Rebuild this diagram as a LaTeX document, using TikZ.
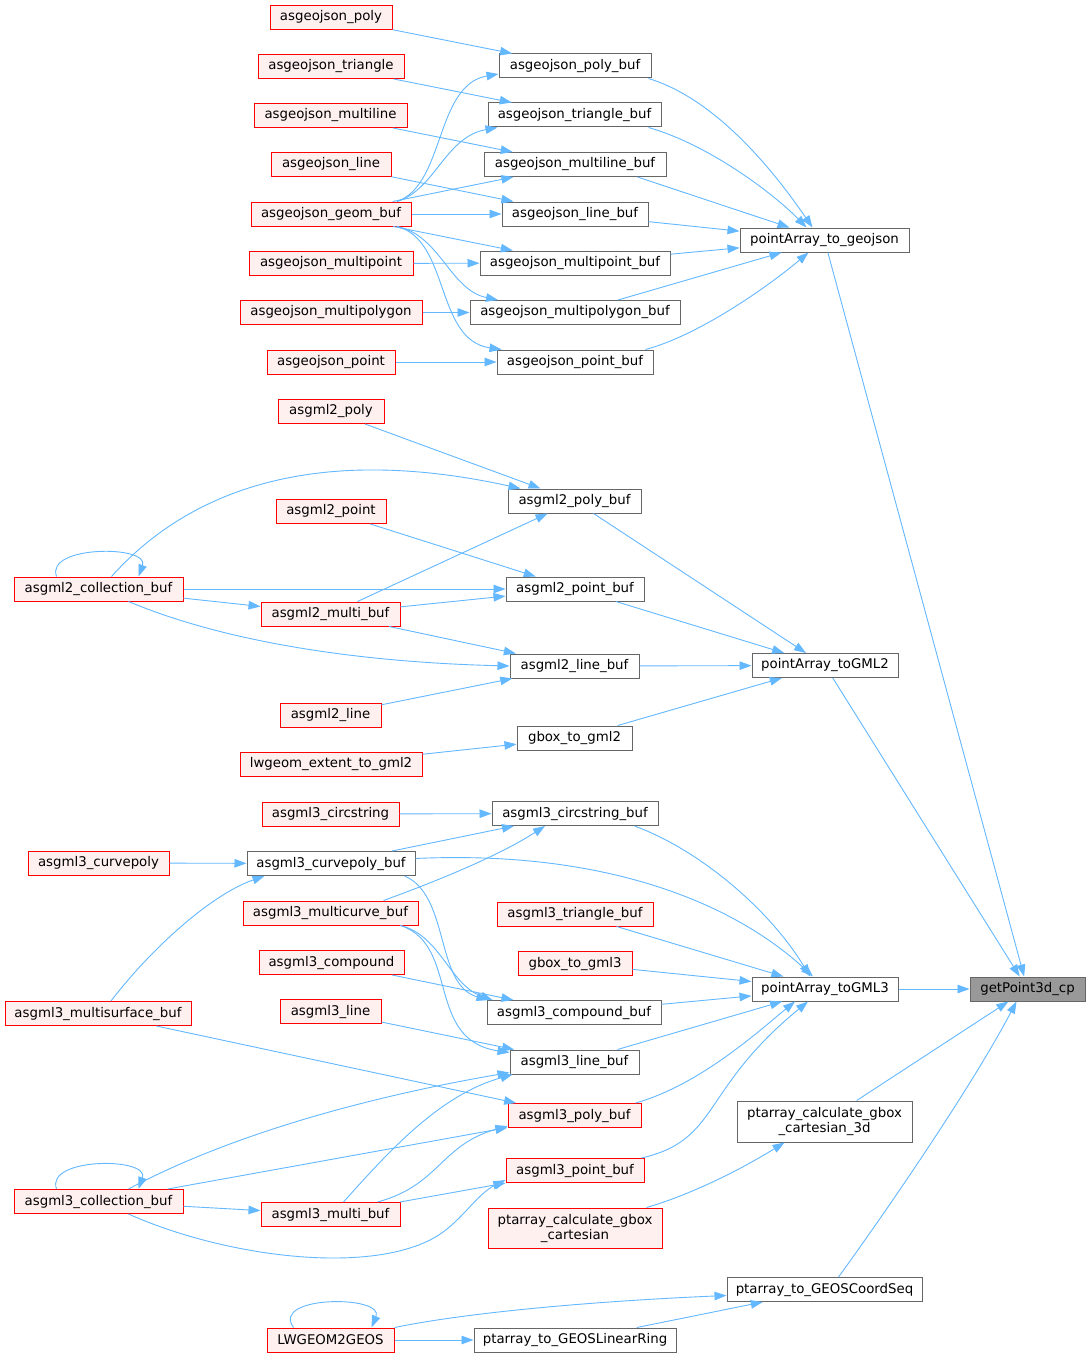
\documentclass[tikz,border=0pt]{standalone}
\usepackage{fontspec}
\setmainfont{DejaVu Sans}
\usetikzlibrary{arrows.meta}
\definecolor{edgeblue}{HTML}{63B8FF}
\definecolor{nodered}{HTML}{FF0000}
\definecolor{nodefill}{HTML}{FFF0F0}
\definecolor{nodegray}{HTML}{666666}
\definecolor{rootfill}{HTML}{999999}
\begin{document}
\begin{tikzpicture}[x=1pt,y=-1pt,
  nb/.style={draw, line width=1pt, inner sep=0pt, minimum height=24pt,
    font=\fontsize{13.33}{15}\selectfont, align=center},
  rn/.style={nb, draw=nodered, fill=nodefill},
  gn/.style={nb, draw=nodegray, fill=white},
  rootn/.style={nb, draw=nodegray, fill=rootfill},
  ce/.style={draw=edgeblue, line width=0.9pt, -{Triangle[length=12pt,width=8.5pt]}}]
\useasboundingbox (0,0) rectangle (1091,1359);
\fill[white] (0,0) rectangle (1091,1359);

% GeoJSON
\node[rn, minimum width=122pt] (gjpoly) at (331,17.5) {asgeojson\_poly};
\node[rn, minimum width=146pt] (gjtri) at (331,66.5) {asgeojson\_triangle};
\node[rn, minimum width=153pt] (gjmline) at (330.5,115.5) {asgeojson\_multiline};
\node[rn, minimum width=120pt] (gjline) at (331,164.5) {asgeojson\_line};
\node[rn, minimum width=160pt] (gjgeom) at (331,214) {asgeojson\_geom\_buf};
\node[rn, minimum width=164pt] (gjmpoint) at (331,263.5) {asgeojson\_multipoint};
\node[rn, minimum width=182pt] (gjmpoly) at (331,312.5) {asgeojson\_multipolygon};
\node[rn, minimum width=128pt] (gjpoint) at (331,362) {asgeojson\_point};

\node[gn, minimum width=152pt] (gjpolybuf) at (575,66) {asgeojson\_poly\_buf};
\node[gn, minimum width=173pt] (gjtribuf) at (574.5,115) {asgeojson\_triangle\_buf};
\node[gn, minimum width=182pt] (gjmlinebuf) at (575,164.5) {asgeojson\_multiline\_buf};
\node[gn, minimum width=146pt] (gjlinebuf) at (575,214) {asgeojson\_line\_buf};
\node[gn, minimum width=190pt] (gjmpointbuf) at (575,263) {asgeojson\_multipoint\_buf};
\node[gn, minimum width=210pt] (gjmpolybuf) at (575,312.5) {asgeojson\_multipolygon\_buf};
\node[gn, minimum width=156pt] (gjpointbuf) at (575,362) {asgeojson\_point\_buf};
\node[gn, minimum width=169pt] (pageojson) at (824.5,240) {pointArray\_to\_geojson};

\node[rootn, minimum width=115pt] (root) at (1027.5,989) {getPoint3d\_cp};

% GML2
\node[rn, minimum width=106pt] (g2poly) at (331,411.5) {asgml2\_poly};
\node[gn, minimum width=133pt] (g2polybuf) at (574.5,501) {asgml2\_poly\_buf};
\node[rn, minimum width=110pt] (g2point) at (331,511.5) {asgml2\_point};
\node[rn, minimum width=169pt] (g2coll) at (98.5,589) {asgml2\_collection\_buf};
\node[gn, minimum width=138pt] (g2pointbuf) at (575,589) {asgml2\_point\_buf};
\node[rn, minimum width=139pt] (g2multi) at (330.5,614) {asgml2\_multi\_buf};
\node[gn, minimum width=129pt] (g2linebuf) at (574.5,666) {asgml2\_line\_buf};
\node[rn, minimum width=101pt] (g2line) at (330.5,715) {asgml2\_line};
\node[gn, minimum width=115pt] (g2gbox) at (574.5,738) {gbox\_to\_gml2};
\node[rn, minimum width=182pt] (g2ext) at (331,764) {lwgeom\_extent\_to\_gml2};
\node[gn, minimum width=146pt] (pagml2) at (825,665.5) {pointArray\_toGML2};

% GML3
\node[rn, minimum width=137pt] (g3circ) at (330.5,814) {asgml3\_circstring};
\node[gn, minimum width=166pt] (g3circbuf) at (575,813.5) {asgml3\_circstring\_buf};
\node[rn, minimum width=141pt] (g3cpoly) at (98.5,863) {asgml3\_curvepoly};
\node[gn, minimum width=168pt] (g3cpolybuf) at (331,863.5) {asgml3\_curvepoly\_buf};
\node[rn, minimum width=175pt] (g3mcurve) at (330.5,913) {asgml3\_multicurve\_buf};
\node[rn, minimum width=156pt] (g3tribuf) at (575,914) {asgml3\_triangle\_buf};
\node[rn, minimum width=145pt] (g3compound) at (331.5,962.5) {asgml3\_compound};
\node[rn, minimum width=114pt] (g3gbox) at (575,963.5) {gbox\_to\_gml3};
\node[rn, minimum width=186pt] (g3msurf) at (98,1013.5) {asgml3\_multisurface\_buf};
\node[gn, minimum width=174pt] (g3compbuf) at (574,1012.5) {asgml3\_compound\_buf};
\node[rn, minimum width=101pt] (g3line) at (330.5,1011.5) {asgml3\_line};
\node[gn, minimum width=129pt] (g3linebuf) at (574.5,1062) {asgml3\_line\_buf};
\node[gn, minimum width=146pt] (pagml3) at (825,989) {pointArray\_toGML3};
\node[rn, minimum width=133pt] (g3polybuf) at (574.5,1115.5) {asgml3\_poly\_buf};
\node[gn, minimum width=175pt, minimum height=41pt] (gbox3d) at (824.5,1121.5) {ptarray\_calculate\_gbox\\\_cartesian\_3d};
\node[rn, minimum width=138pt] (g3pointbuf) at (575,1170.5) {asgml3\_point\_buf};
\node[rn, minimum width=169pt] (g3coll) at (98.5,1201.5) {asgml3\_collection\_buf};
\node[rn, minimum width=139pt] (g3multi) at (330.5,1214.5) {asgml3\_multi\_buf};
\node[rn, minimum width=174pt, minimum height=40pt] (gboxcart) at (575,1228) {ptarray\_calculate\_gbox\\\_cartesian};
\node[gn, minimum width=195pt] (geoscs) at (824.5,1289.5) {ptarray\_to\_GEOSCoordSeq};
\node[rn, minimum width=127pt] (lwgeom) at (330.5,1340) {LWGEOM2GEOS};
\node[gn, minimum width=202pt] (geoslr) at (575,1340) {ptarray\_to\_GEOSLinearRing};

% ---------- GeoJSON edges
\draw[ce] (gjpoly) -- (gjpolybuf);
\draw[ce] (gjtri) -- (gjtribuf);
\draw[ce] (gjmline) -- (gjmlinebuf);
\draw[ce] (gjline) -- (gjlinebuf);
\draw[ce] ([xshift=66pt]gjgeom.north) .. controls (445,185) and (435,85) .. ([yshift=-8pt]gjpolybuf.west);
\draw[ce] ([xshift=66pt]gjgeom.north) .. controls (435,190) and (445,137) .. ([xshift=-77pt]gjtribuf.south);
\draw[ce] (gjgeom) -- (gjmlinebuf);
\draw[ce] (gjgeom) -- (gjlinebuf);
\draw[ce] (gjgeom) -- (gjmpointbuf);
\draw[ce] ([xshift=66pt]gjgeom.south) .. controls (440,235) and (450,290) .. ([xshift=-77pt]gjmpolybuf.north);
\draw[ce] ([xshift=66pt]gjgeom.south) .. controls (450,240) and (435,340) .. ([xshift=5pt]gjpointbuf.north west);
\draw[ce] (gjmpoint) -- (gjmpointbuf);
\draw[ce] (gjmpoly) -- (gjmpolybuf);
\draw[ce] (gjpoint) -- (gjpointbuf);

\draw[ce] ([xshift=-3pt]gjpolybuf.south east) .. controls (720,100) and (780,180) .. ([xshift=-12pt]pageojson.north);
\draw[ce] ([xshift=-13pt]gjtribuf.south east) .. controls (710,145) and (775,195) .. ([xshift=-18pt]pageojson.north);
\draw[ce] ([xshift=-29pt]gjmlinebuf.south east) -- ([xshift=-35pt]pageojson.north);
\draw[ce] (gjlinebuf) -- (pageojson);
\draw[ce] (gjmpointbuf) -- (pageojson);
\draw[ce] (gjmpolybuf) -- (pageojson);
\draw[ce] ([xshift=-8pt]gjpointbuf.north east) .. controls (700,335) and (770,285) .. ([xshift=-16pt]pageojson.south);
\draw[ce] (pageojson) -- (root);

% ---------- GML2 edges
\draw[ce] (g2poly) -- (g2polybuf);
\draw[ce] ([xshift=13pt]g2coll.north) .. controls (180,500) and (300,440) .. ([xshift=-54pt]g2polybuf.north);
\draw[ce] ([xshift=-42pt]g2coll.north) .. controls (45,545) and (150,545) .. ([xshift=40pt]g2coll.north);
\draw[ce] (g2coll) -- (g2pointbuf);
\draw[ce] (g2coll) -- (g2multi);
\draw[ce] ([xshift=30pt]g2coll.south) .. controls (220,640) and (350,662) .. (g2linebuf.west);
\draw[ce] (g2point) -- (g2pointbuf);
\draw[ce] (g2multi) -- (g2polybuf);
\draw[ce] (g2multi) -- (g2pointbuf);
\draw[ce] (g2multi) -- (g2linebuf);
\draw[ce] (g2line) -- (g2linebuf);
\draw[ce] (g2ext) -- (g2gbox);
\draw[ce] (g2polybuf) -- (pagml2);
\draw[ce] (g2pointbuf) -- (pagml2);
\draw[ce] (g2linebuf) -- (pagml2);
\draw[ce] (g2gbox) -- (pagml2);
\draw[ce] (pagml2) -- (root);

% ---------- GML3 edges
\draw[ce] (g3circ) -- (g3circbuf);
\draw[ce] (g3cpoly) -- (g3cpolybuf);
\draw[ce] (g3cpolybuf) -- (g3circbuf);
\draw[ce] ([xshift=53pt]g3mcurve.north) .. controls (440,880) and (500,855) .. ([xshift=-30pt]g3circbuf.south);
\draw[ce] ([yshift=5pt]g3cpolybuf.east) .. controls (600,850) and (730,900) .. ([xshift=-12pt]pagml3.north);
\draw[ce] ([xshift=-24pt]g3circbuf.south east) .. controls (700,850) and (770,910) .. ([xshift=-15pt]pagml3.north);
\draw[ce] ([xshift=-11pt]g3cpolybuf.south east) .. controls (450,895) and (435,985) .. ([xshift=2pt]g3compbuf.north west);
\draw[ce] ([xshift=-18pt]g3mcurve.south east) .. controls (440,935) and (450,985) .. ([xshift=6pt]g3compbuf.north west);
\draw[ce] ([xshift=-18pt]g3mcurve.south east) .. controls (460,945) and (425,1040) .. ([yshift=-3pt]g3linebuf.north west);
\draw[ce] ([xshift=13pt]g3msurf.north) .. controls (150,950) and (210,895) .. ([xshift=18pt]g3cpolybuf.south west);
\draw[ce] (g3msurf) -- (g3polybuf);
\draw[ce] (g3compound) -- (g3compbuf);
\draw[ce] (g3line) -- (g3linebuf);
\draw[ce] (g3tribuf) -- (pagml3);
\draw[ce] (g3gbox) -- (pagml3);
\draw[ce] (g3compbuf) -- (pagml3);
\draw[ce] (g3linebuf) -- (pagml3);
\draw[ce] ([xshift=-6pt]g3polybuf.north east) .. controls (700,1085) and (760,1030) .. ([xshift=-30pt]pagml3.south);
\draw[ce] ([xshift=-3pt]g3pointbuf.north east) .. controls (720,1140) and (700,1090) .. ([xshift=-17pt]pagml3.south);
\draw[ce] (pagml3) -- (root);
\draw[ce] ([xshift=-16pt]gboxcart.north east) .. controls (690,1195) and (740,1170) .. ([xshift=-40pt]gbox3d.south);
\draw[ce] (gbox3d) -- (root);

\draw[ce] ([xshift=-42pt]g3coll.north) .. controls (45,1157) and (150,1157) .. ([xshift=40pt]g3coll.north);
\draw[ce] ([xshift=30pt]g3coll.north) .. controls (220,1140) and (350,1100) .. ([yshift=2pt]g3linebuf.south west);
\draw[ce] (g3coll) -- (g3polybuf);
\draw[ce] (g3coll) -- (g3multi);
\draw[ce] ([xshift=30pt]g3coll.south) .. controls (220,1255) and (360,1275) .. (430,1240) .. controls (460,1225) and (475,1195) .. ([yshift=3pt]g3pointbuf.south west);
\draw[ce] ([xshift=13pt]g3multi.north) .. controls (390,1150) and (440,1095) .. ([xshift=3pt]g3linebuf.south west);
\draw[ce] ([xshift=-23pt]g3multi.north east) .. controls (440,1185) and (440,1145) .. ([yshift=2pt]g3polybuf.south west);
\draw[ce] (g3multi) -- (g3pointbuf);

% ---------- GEOS edges
\draw[ce] ([xshift=-37pt]lwgeom.north) .. controls (270,1295) and (385,1295) .. ([xshift=41pt]lwgeom.north);
\draw[ce] (lwgeom.north east) .. controls (480,1310) and (620,1300) .. ([yshift=-6pt]geoscs.west);
\draw[ce] (lwgeom) -- (geoslr);
\draw[ce] (geoslr) -- (geoscs);
\draw[ce] ([xshift=14pt]geoscs.north) .. controls (880,1220) and (970,1090) .. ([xshift=-11pt]root.south);
\end{tikzpicture}
\end{document}
